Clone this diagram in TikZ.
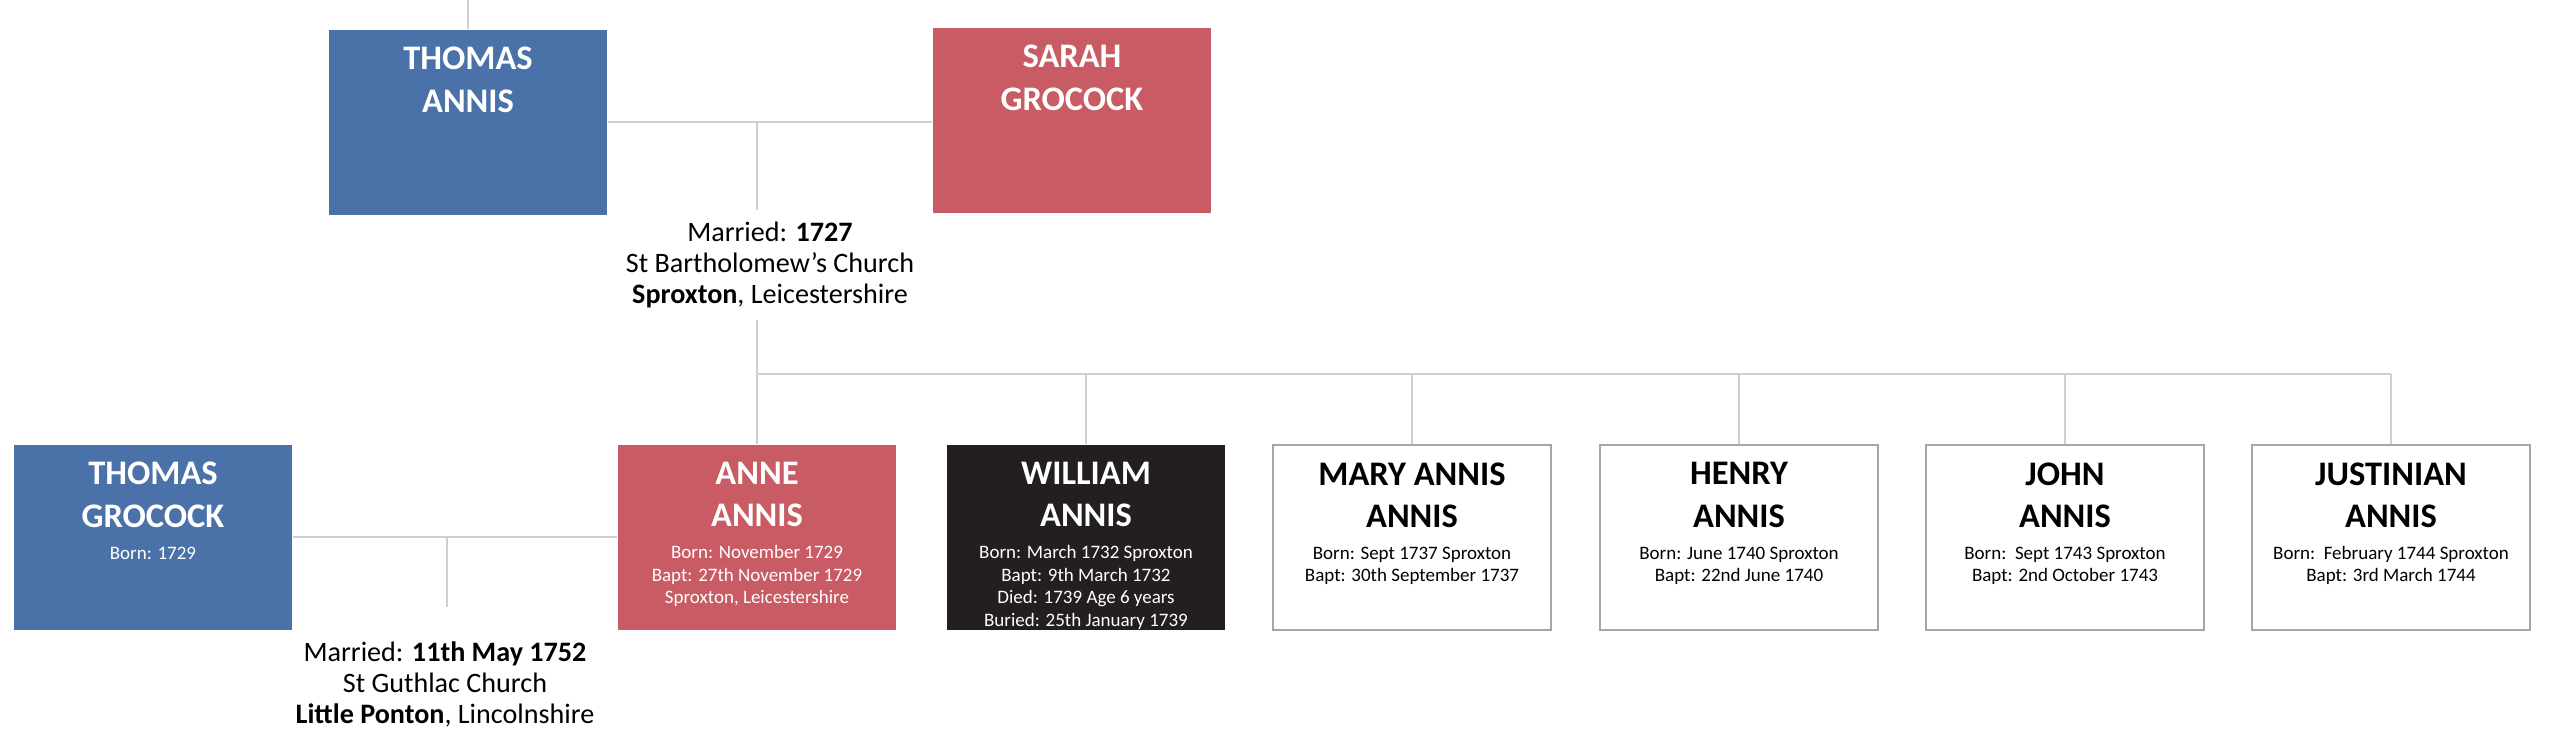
\documentclass[tikz,border=0pt]{standalone}
\usepackage{fontspec}
\setmainfont{Carlito}
\usetikzlibrary{calc}
\definecolor{tablue}{HTML}{4A72A8}
\definecolor{tared}{HTML}{C85B63}
\definecolor{tablack}{HTML}{231F20}
\definecolor{linegray}{HTML}{CFCFCF}
\definecolor{edgegray}{HTML}{A6A6A6}
\newcommand{\namefont}{\fontsize{9.8}{12}\bfseries\selectfont}
\newcommand{\detfont}{\fontsize{5.4}{6.4}\selectfont}
\newcommand{\cardtext}[2]{\parbox[t][1.85cm][t]{2.78cm}{\centering\parskip=0pt\vspace*{5pt}{\namefont #1\par}\vspace{2.7pt}{\detfont #2\par}}}
\tikzset{
  card/.style={inner sep=0pt, anchor=north},
  male/.style={card, fill=tablue, text=white},
  female/.style={card, fill=tared, text=white},
  died/.style={card, fill=tablack, text=white},
  child/.style={card, draw=edgegray, line width=0.6pt, fill=white},
  link/.style={draw=linegray, line width=0.45pt},
  wedding/.style={align=center, font=\fontsize{8}{8.8}\selectfont}
}
\begin{document}
\begin{tikzpicture}[x=0.01cm,y=-0.01cm]
    \useasboundingbox (0,0) rectangle (2560,754);
    \node[male] at (468,29) (ta) {\cardtext{THOMAS\par ANNIS}{}};
    \node[female] at (1072,27) (sg) {\cardtext{SARAH\par GROCOCK}{}};
    \node[male] at (153,444) (tg) {\cardtext{THOMAS\par GROCOCK}{Born: 1729}};
    \node[female] at (757,444) (anne) {\cardtext{ANNE\par ANNIS}{Born: November 1729\par Bapt: 27th November 1729\par Sproxton, Leicestershire}};
    \node[died] at (1086,444) (wil) {\cardtext{WILLIAM\par ANNIS}{Born: March 1732 Sproxton\par Bapt: 9th March 1732\par Died: 1739 Age 6 years\par Buried: 25th January 1739}};
    \node[child] at (1412,444) (mar) {\cardtext{MARY ANNIS\par ANNIS}{Born: Sept 1737 Sproxton\par Bapt: 30th September 1737}};
    \node[child] at (1739,444) (hen) {\cardtext{HENRY\par ANNIS}{Born: June 1740 Sproxton\par Bapt: 22nd June 1740}};
    \node[child] at (2065,444) (joh) {\cardtext{JOHN\par ANNIS}{Born:\ \ Sept 1743 Sproxton\par Bapt: 2nd October 1743}};
    \node[child] at (2391,444) (jus) {\cardtext{JUSTINIAN\par ANNIS}{Born:\ \ February 1744 Sproxton\par Bapt: 3rd March 1744}};
    \node[wedding, minimum height=1.06cm] at (770,265) (m1) {Married: \textbf{1727}\\St Bartholomew’s Church\\\textbf{Sproxton}, Leicestershire};
    \node[wedding] at (445,684) (m2) {Married: \textbf{11th May 1752}\\St Guthlac Church\\\textbf{Little Ponton}, Lincolnshire};
    \coordinate (topedge) at (468,0);
    \coordinate (kids) at (757,374);
    \coordinate (lpdrop) at (447,607);
    \draw[link] (topedge) -- (ta.north)
        (ta.east) -- (sg.west |- ta.east)
        (ta.east -| anne.north) -- (m1.north -| anne.north)
        (m1.south -| anne.north) -- (anne.north)
        (kids) -- (kids -| jus.north)
        (tg.east) -- (anne.west |- tg.east)
        (tg.east -| lpdrop) -- (lpdrop);
    \foreach \k in {wil,mar,hen,joh,jus}
        \draw[link] (kids -| \k.north) -- (\k.north);
\end{tikzpicture}
\end{document}
